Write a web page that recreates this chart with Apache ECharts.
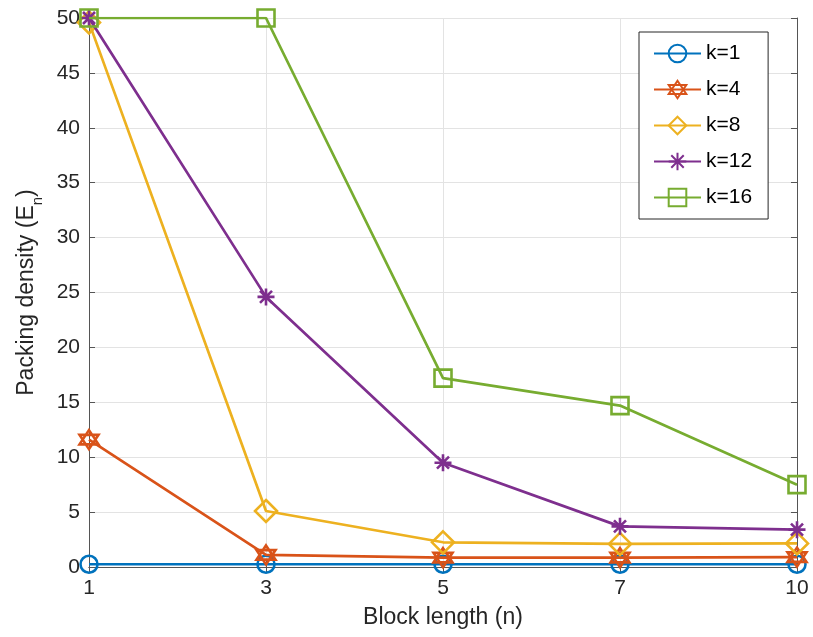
<!DOCTYPE html>
<html><head><meta charset="utf-8">
<script src="https://cdn.jsdelivr.net/npm/echarts@6/dist/echarts.min.js"></script>
<style>html,body{margin:0;padding:0;background:#fff}#c{width:813px;height:637px}</style>
</head><body><div id="c"></div>
<script>
const categories = ['1','3','5','7','10'];
const seriesNames = ['k=1','k=4','k=8','k=12','k=16'];
const k1 = [0.25, 0.25, 0.25, 0.25, 0.25];
const k4 = [11.6, 1.1, 0.85, 0.85, 0.9];
const k8 = [49.6, 5.1, 2.25, 2.1, 2.15];
const k12 = [50, 24.6, 9.5, 3.7, 3.4];
const k16 = [50, 50, 17.2, 14.7, 7.5];
const yTicks = [0,5,10,15,20,25,30,35,40,45,50];

const colors = ['#0072BD','#D95319','#EDB120','#7E2F8E','#77AC30'];
const symbols = [
  'circle',
  'path://M0,-10 L8.66,5 L-8.66,5 Z M0,10 L8.66,-5 L-8.66,-5 Z',
  'diamond',
  'path://M0,-10 L0,10 M-10,0 L10,0 M-7.07,-7.07 L7.07,7.07 M-7.07,7.07 L7.07,-7.07',
  'rect'
];
const sizes = [17, 19, 22, 17, 17];
const dataAll = [k1,k4,k8,k12,k16];
const font = 'Liberation Sans, Arial, Helvetica, sans-serif';

const chart = echarts.init(document.getElementById('c'));
const series = dataAll.map((d,i)=>({
  name: seriesNames[i], type:'line', data:d, xAxisIndex:0, yAxisIndex:0,
  symbol: symbols[i], symbolSize: sizes[i], showAllSymbol:true,
  lineStyle:{color:colors[i], width:2.7},
  itemStyle:{color:'rgba(255,255,255,0)', borderColor:colors[i], borderWidth:2.6},
  emphasis:{disabled:true}, animation:false, z: 3+i
}));

chart.setOption({
  animation:false,
  textStyle:{fontFamily:font},
  grid:{left:89, right:16, top:18, bottom:70, containLabel:false},
  legend:{
    orient:'vertical', left:639, top:32,
    itemWidth:47, itemHeight:22, itemGap:15,
    padding:[11,16,11,14],
    borderColor:'#262626', borderWidth:1, backgroundColor:'#fff',
    textStyle:{fontFamily:font, fontSize:21, color:'#000'},
    data: seriesNames
  },
  xAxis:[{
    type:'category', data:categories, boundaryGap:false,
    name:'Block length (n)', nameLocation:'middle', nameGap:39,
    nameTextStyle:{fontSize:23, color:'#262626', fontFamily:font},
    axisLine:{show:true, lineStyle:{color:'#555', width:1}},
    axisTick:{show:true, inside:true, length:6, alignWithLabel:true, lineStyle:{color:'#555'}},
    axisLabel:{fontSize:21, color:'#262626', margin:11, fontFamily:font},
    splitLine:{show:true, lineStyle:{color:'#e3e3e3', width:1}}
  },{
    type:'category', data:categories, boundaryGap:false, position:'top',
    axisLine:{show:true, lineStyle:{color:'#555', width:1}},
    axisTick:{show:true, inside:true, length:6, lineStyle:{color:'#555'}},
    axisLabel:{show:false}, splitLine:{show:false}
  }],
  yAxis:[{
    type:'value', min:0, max:50, interval:5,
    name:'{a|Packing density (E}{s|n}{a|)}', nameLocation:'middle', nameGap:44,
    nameTextStyle:{rich:{a:{fontSize:23, color:'#262626', fontFamily:font},
      s:{fontSize:15, color:'#262626', fontFamily:font, padding:[22,0,0,0]}}},
    axisLine:{show:true, lineStyle:{color:'#555', width:1}},
    axisTick:{show:true, inside:true, length:6, lineStyle:{color:'#555'}},
    axisLabel:{fontSize:21, color:'#262626', margin:9, fontFamily:font,
      formatter:(v)=> yTicks.includes(v) ? String(v) : ''},
    splitLine:{show:true, lineStyle:{color:'#e3e3e3', width:1}}
  },{
    type:'value', min:0, max:50, interval:5, position:'right',
    axisLine:{show:true, lineStyle:{color:'#555', width:1}},
    axisTick:{show:true, inside:true, length:6, lineStyle:{color:'#555'}},
    axisLabel:{show:false}, splitLine:{show:false}
  }],
  series: series
});
</script></body></html>
